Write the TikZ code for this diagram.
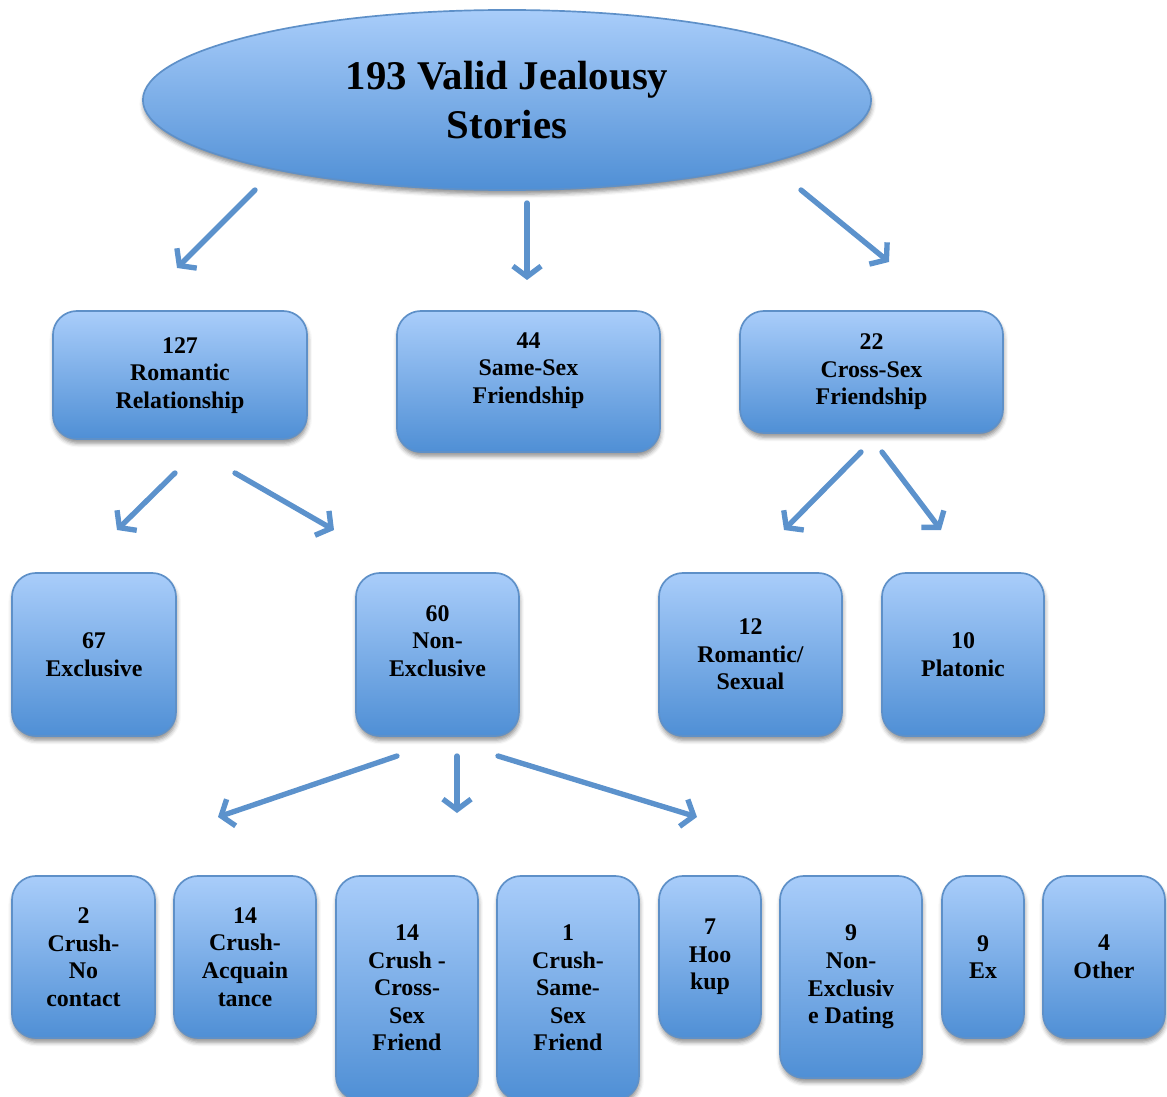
\documentclass[tikz,border=0pt]{standalone}
\usepackage{fontspec}
\setmainfont{Liberation Serif}
\usetikzlibrary{arrows.meta, shapes.geometric, shadows.blur}

\definecolor{boxtop}{HTML}{A9CDFA}
\definecolor{boxbot}{HTML}{4F8FD5}
\definecolor{boxline}{HTML}{5E90C8}
\definecolor{arrowblue}{HTML}{5C92CC}

\tikzset{
	box/.style={draw=boxline, line width=1.2pt, rounded corners=0.6cm,
		top color=boxtop, bottom color=boxbot, align=center,
		font=\fontsize{17}{19.6}\selectfont\bfseries,
		blur shadow={shadow xshift=0.5pt, shadow yshift=-3pt, shadow blur radius=3pt, shadow opacity=45}},
	arr/.style={draw=arrowblue, line width=3.8pt, line cap=round,
		-{Straight Barb[length=7.5pt, width=20pt, line width=3.8pt]}}
}

\begin{document}
\begin{tikzpicture}[x=0.025cm, y=-0.025cm]
	\useasboundingbox (0,0) rectangle (1167,1097);
	\clip (0,0) rectangle (1167,1097);
	
	% Title
	\node[ellipse, draw=boxline, line width=1.2pt, top color=boxtop, bottom color=boxbot,
		minimum width=18.2cm, minimum height=4.5cm, align=center,
		font=\fontsize{29}{35.4}\selectfont\bfseries,
		blur shadow={shadow xshift=0.5pt, shadow yshift=-3pt, shadow blur radius=3pt, shadow opacity=45}]
		(T) at (507,100) {193 Valid Jealousy\\Stories};
	
	% First level
	\node[box, minimum width=6.35cm, minimum height=3.2cm] (R) at (180,375) {\\[-8pt]127\\Romantic\\Relationship};
	\node[box, minimum width=6.575cm, minimum height=3.525cm] (S) at (528.5,381.5) {44\\Same-Sex\\Friendship\\~};
	\node[box, minimum width=6.575cm, minimum height=3.05cm] (C) at (871.5,372) {22\\Cross-Sex\\Friendship};
	
	% Second level
	\node[box, minimum width=4.1cm, minimum height=4.075cm] (RE) at (94,654.5) {67\\Exclusive};
	\node[box, minimum width=4.075cm, minimum height=4.075cm] (RN) at (437.5,654.5) {60\\Non-\\Exclusive\\~};
	\node[box, minimum width=4.575cm, minimum height=4.075cm] (CR) at (750.5,654.5) {12\\Romantic/\\Sexual};
	\node[box, minimum width=4.05cm, minimum height=4.075cm] (CP) at (963,654.5) {10\\Platonic};
	
	% Third level
	\node[box, minimum width=3.575cm, minimum height=4.05cm] (N1) at (83.5,957) {2\\Crush-\\No\\contact};
	\node[box, minimum width=3.55cm, minimum height=4.05cm] (N2) at (245,957) {14\\Crush-\\Acquain\\tance};
	\node[box, minimum width=3.55cm, minimum height=5.6cm] (N3) at (407,988) {14\\Crush -\\Cross-\\Sex\\Friend};
	\node[box, minimum width=3.55cm, minimum height=5.6cm] (N4) at (568,988) {1\\Crush-\\Same-\\Sex\\Friend};
	\node[box, minimum width=2.55cm, minimum height=4.05cm] (N5) at (710,957) {7\\Hoo\\kup};
	\node[box, minimum width=3.55cm, minimum height=5.05cm] (N6) at (851,977) {9\\Non-\\Exclusiv\\e Dating};
	\node[box, minimum width=2.05cm, minimum height=4.05cm] (N7) at (983,957) {9\\Ex};
	\node[box, minimum width=3.05cm, minimum height=4.05cm] (N8) at (1104,957) {4\\Other};
	
	% Arrow end points
	\coordinate (A1) at (255,190);  \coordinate (B1) at (177,268);
	\coordinate (A2) at (527,203);  \coordinate (B2) at (527,280);
	\coordinate (A3) at (801,190);  \coordinate (B3) at (889,262);
	\coordinate (A4) at (175,473);  \coordinate (B4) at (117,530);
	\coordinate (A5) at (235,473);  \coordinate (B5) at (334,530);
	\coordinate (A6) at (861,452);  \coordinate (B6) at (784,530);
	\coordinate (A7) at (882,452);  \coordinate (B7) at (941,530);
	\coordinate (A8) at (397,756);  \coordinate (B8) at (218,817);
	\coordinate (A9) at (457,756);  \coordinate (B9) at (457,813);
	\coordinate (A10) at (498,756); \coordinate (B10) at (697,817);
	
	% Arrows
	\foreach \i in {1,...,10}
		\draw[arr] (A\i) -- (B\i);
\end{tikzpicture}
\end{document}
